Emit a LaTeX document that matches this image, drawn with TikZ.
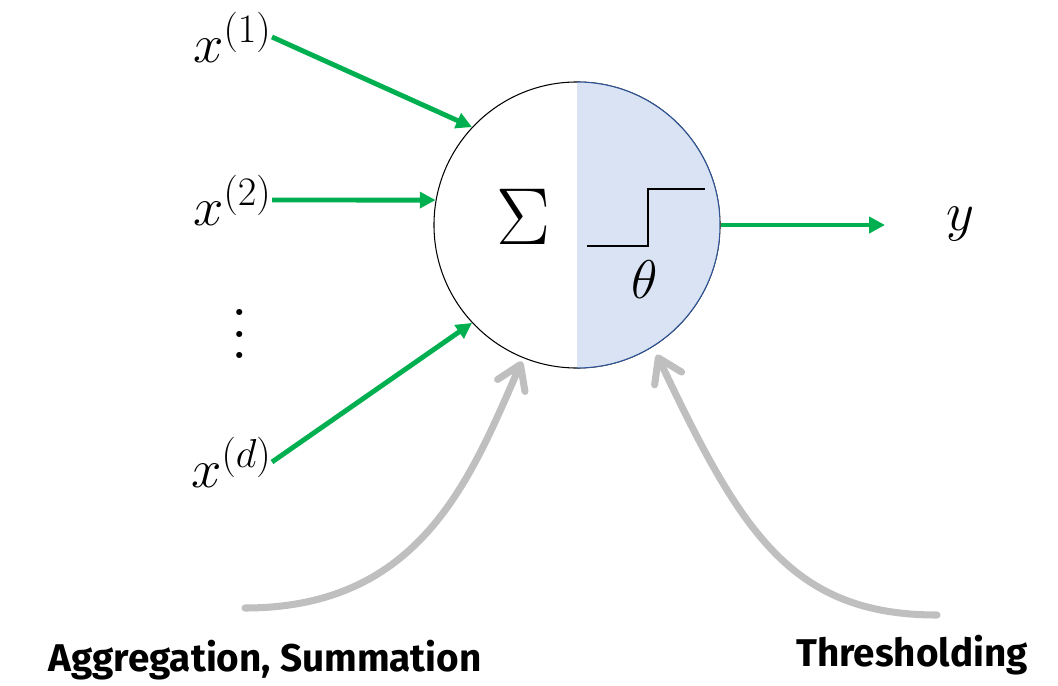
\RequirePackage{fix-cm}
\documentclass[tikz,border=0pt]{standalone}
\usepackage{amsmath}
\usepackage{fontspec}
\newfontfamily\handfont{Fira Sans}
\usetikzlibrary{arrows.meta}
\definecolor{InGreen}{RGB}{0,176,80}
\definecolor{HalfBlue}{RGB}{218,227,243}
\definecolor{EdgeBlue}{RGB}{47,85,151}
\definecolor{HintGray}{RGB}{191,191,191}
\newcommand{\supidx}[1]{^{\mbox{\fontsize{23}{26}\selectfont$(#1)$}}}
\newcommand{\tallvdots}{\vbox{\baselineskip=12.5pt\lineskiplimit=-20pt\hbox{.}\hbox{.}\hbox{.}}}
\tikzset{
  inlab/.style={inner sep=0pt, font=\fontsize{31}{36}\selectfont},
  neuron/.style={circle, draw=black, line width=0.6pt, inner sep=0pt, minimum size=162.8pt},
  inarrow/.style={-{Triangle[length=9pt, width=9pt]}, line width=2.8pt, InGreen},
  hintarrow/.style={-{Straight Barb[length=13pt, width=17pt, round]}, line width=4pt, HintGray, line cap=round},
  handlab/.style={font=\handfont\bfseries\fontsize{22}{26}\selectfont, inner sep=0pt},
}

\begin{document}
\begin{tikzpicture}[x=0.02cm, y=-0.02cm]
    \useasboundingbox (0,0) rectangle (1058,686);
    % the neuron: plain half for the sum, blue half for the threshold
    \node[neuron] (neuron) at (577,225) {};
    \begin{scope}
      \clip (neuron.north) -| (neuron.east) |- (neuron.south) -- cycle;
      \fill[HalfBlue, draw=EdgeBlue, line width=0.6pt] (neuron.center) circle[radius=143];
    \end{scope}
    \node[font=\fontsize{46}{50}\selectfont] (sum) at (523,217) {$\Sigma$};
    \draw[line width=1.4pt] (587,246) -- (648,246) -- (648,189) -- (705,189);
    \node[font=\fontsize{31}{36}\selectfont] (theta) at (645,280) {$\theta$};
    % inputs
    \node[inlab, anchor=east] (x1) at (272,37) {$x\supidx{1}$};
    \node[inlab, anchor=east] (x2) at (272,200) {$x\supidx{2}$};
    \node[inlab, font=\fontsize{42}{44}\selectfont] (xdots) at (240,334) {\tallvdots};
    \node[inlab, anchor=east] (xd) at (272,462) {$x\supidx{d}$};
    \draw[inarrow] (x1.east) -- (neuron.137);
    \draw[inarrow] (x2.east) -- (neuron.170);
    \draw[inarrow] (xd.east) -- (neuron.223);
    % output
    \coordinate (yend) at (885,225);
    \node[inlab] (y) at (960,224) {$y$};
    \draw[inarrow] (neuron.east) -- (yend);
    % the two hints
    \coordinate (aggtail) at (245,608);
    \coordinate (thrtail) at (937,615);
    \draw[hintarrow, shorten >=2pt] (aggtail) .. controls (420,608) and (470,480) .. (neuron.248);
    \draw[hintarrow, shorten >=5pt] (thrtail) .. controls (790,615) and (740,530) .. (neuron.302);
    \node[handlab] (agg) at (265,660) {Aggregation, Summation};
    \node[handlab] (thr) at (912,655) {Thresholding};
  \end{tikzpicture}
\end{document}
